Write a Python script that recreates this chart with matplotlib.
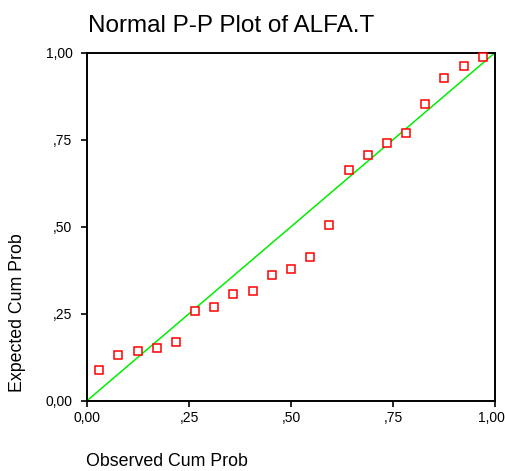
import matplotlib
matplotlib.use("Agg")
import matplotlib.pyplot as plt
from matplotlib.transforms import ScaledTranslation

plt.rcParams['font.family'] = ['Liberation Sans', 'DejaVu Sans']

# Observed cumulative probability (x) and expected cumulative probability (y)
observed = [0.029, 0.076, 0.124, 0.171, 0.218, 0.265, 0.312, 0.359, 0.406, 0.453,
            0.500, 0.547, 0.594, 0.641, 0.688, 0.735, 0.782, 0.829, 0.876, 0.924, 0.971]
expected = [0.088, 0.132, 0.144, 0.151, 0.169, 0.258, 0.268, 0.306, 0.316, 0.360,
            0.379, 0.412, 0.504, 0.662, 0.706, 0.740, 0.769, 0.853, 0.928, 0.961, 0.987]
ref_line = [0.0, 1.0]
tick_vals = [0.0, 0.25, 0.5, 0.75, 1.0]
tick_labels = ["0,00", ",25", ",50", ",75", "1,00"]

W, H = 506, 471
fig = plt.figure(figsize=(W / 100, H / 100), dpi=100)
ax = fig.add_axes([87 / W, 1 - 400.7 / H, 408 / W, 348 / H])

ax.plot(ref_line, ref_line, color='#00ee00', lw=1.1, zorder=2)
ax.plot(observed, expected, linestyle='none', marker='s', markersize=5.2,
        markerfacecolor='white', markeredgecolor='#ff0000', markeredgewidth=1.1,
        zorder=3, clip_on=False)

ax.set_xlim(0, 1)
ax.set_ylim(0, 1)
ax.set_xticks(tick_vals)
ax.set_xticklabels(tick_labels)
ax.set_yticks(tick_vals)
ax.set_yticklabels(tick_labels)
for s in ax.spines.values():
    s.set_linewidth(1.4)
    s.set_color('black')
ax.tick_params(axis='both', direction='out', length=4, width=1.2, labelsize=10,
               colors='black')
ax.tick_params(axis='y', pad=6.5)
ax.tick_params(axis='x', pad=3.5)

# keep the last x tick label inside the canvas, as in the reference
last = ax.get_xticklabels()[-1]
last.set_transform(last.get_transform() + ScaledTranslation(-4 / 100, 0, fig.dpi_scale_trans))

fig.text(88 / W, 1 - 31.7 / H, "Normal P-P Plot of ALFA.T", fontsize=17.5,
         ha='left', va='baseline')
fig.text(86 / W, 1 - 465.5 / H, "Observed Cum Prob", fontsize=12.8,
         ha='left', va='baseline')
fig.text(18 / W, 1 - 392 / H, "Expected Cum Prob", fontsize=12.8,
         rotation=90, ha='center', va='bottom')

fig.savefig("out.png", dpi=100)
